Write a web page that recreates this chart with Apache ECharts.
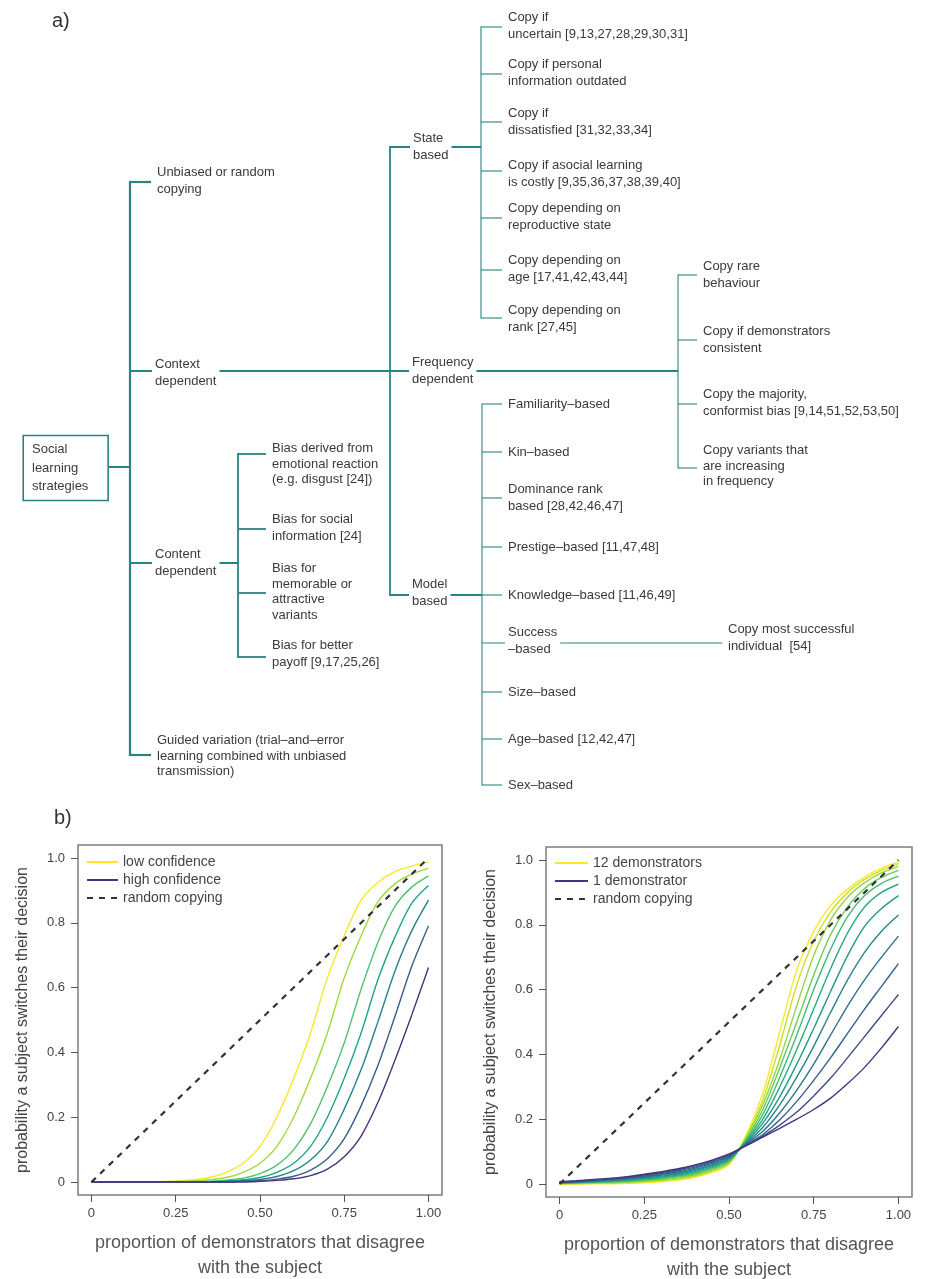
<!DOCTYPE html>
<html><head><meta charset="utf-8">
<script src="https://cdn.jsdelivr.net/npm/echarts@6/dist/echarts.min.js"></script>
<style>html,body{margin:0;padding:0;background:#fff}#c{width:939px;height:1279px}</style>
</head><body><div id="c"></div>
<script>
// ---------- panel a) : classification tree ----------
const treeLabels = [
  'Social\nlearning\nstrategies',
  'Unbiased or random\ncopying',
  'Context\ndependent',
  'Content\ndependent',
  'Guided variation (trial\u2013and\u2013error\nlearning combined with unbiased\ntransmission)',
  'State\nbased',
  'Frequency\ndependent',
  'Model\nbased',
  'Copy if\nuncertain [9,13,27,28,29,30,31]',
  'Copy if personal\ninformation outdated',
  'Copy if\ndissatisfied [31,32,33,34]',
  'Copy if asocial learning\nis costly [9,35,36,37,38,39,40]',
  'Copy depending on\nreproductive state',
  'Copy depending on\nage [17,41,42,43,44]',
  'Copy depending on\nrank [27,45]',
  'Copy rare\nbehaviour',
  'Copy if demonstrators\nconsistent',
  'Copy the majority,\nconformist bias [9,14,51,52,53,50]',
  'Copy variants that\nare increasing\nin frequency',
  'Familiarity\u2013based',
  'Kin\u2013based',
  'Dominance rank\nbased [28,42,46,47]',
  'Prestige\u2013based [11,47,48]',
  'Knowledge\u2013based [11,46,49]',
  'Success\n\u2013based',
  'Size\u2013based',
  'Age\u2013based [12,42,47]',
  'Sex\u2013based',
  'Bias derived from\nemotional reaction\n(e.g. disgust [24])',
  'Bias for social\ninformation [24]',
  'Bias for\nmemorable or\nattractive\nvariants',
  'Bias for better\npayoff [9,17,25,26]',
  'Copy most successful\nindividual  [54]'
];
const treeParents = [-1,0,0,0,0,2,2,2,5,5,5,5,5,5,5,6,6,6,6,7,7,7,7,7,7,7,7,7,3,3,3,3,24];
// vertical position of each node's branch line (diagram rows)
const treeRows = [467,182,371,563,755,147,371,595,27,74,122,171,218,270,318,275,340,404,468,404,452,498,547,595,643,692,739,785,454,529,593,657,643];
// vertical position of each node's label block
const treeLabelRows = [468,181,373,563,756,147,371,593,26,73,122,174,217,269,319,275,340,403,466,404,452,498,547,595,641,692,739,785,464,528,592,654,638];
// horizontal position where each label starts (diagram columns)
const treeLabelCols = [32,157,155,155,157,413,412,412,508,508,508,508,508,508,508,703,703,703,703,508,508,508,508,508,508,508,508,508,272,272,272,272,728];
// column of the bar joining a node's children (null for leaves)
const treeBranchCols = [130,null,390,238,null,481,678,482,null,null,null,null,null,null,null,null,null,null,null,null,null,null,null,null,722,null,null,null,null,null,null,null,null];

// ---------- panel b) : model curves ----------
const xGrid = [0,0.05,0.1,0.15,0.2,0.25,0.3,0.35,0.4,0.45,0.5,0.55,0.6,0.65,0.7,0.75,0.8,0.85,0.9,0.95,1];
const xTickValues = [0,0.25,0.5,0.75,1];
const xTickLabels = ['0','0.25','0.50','0.75','1.00'];
const yTickValues = [0,0.2,0.4,0.6,0.8,1];
const yTickLabels = ['0','0.2','0.4','0.6','0.8','1.0'];
const randomX = [0,1];
const randomY = [0,1];

// left: confidence levels (low -> high)
const conf1 = [0,0,0,0,0.001,0.003,0.007,0.014,0.030,0.058,0.110,0.200,0.320,0.460,0.630,0.760,0.870,0.925,0.958,0.975,0.987];
const conf2 = [0,0,0,0,0,0.001,0.003,0.007,0.014,0.030,0.058,0.110,0.200,0.320,0.460,0.630,0.760,0.865,0.920,0.950,0.968];
const conf3 = [0,0,0,0,0,0,0.001,0.002,0.006,0.012,0.026,0.052,0.100,0.180,0.295,0.430,0.595,0.740,0.850,0.910,0.945];
const conf4 = [0,0,0,0,0,0,0,0.001,0.003,0.007,0.014,0.030,0.058,0.110,0.200,0.320,0.460,0.625,0.755,0.860,0.915];
const conf5 = [0,0,0,0,0,0,0,0,0.001,0.004,0.008,0.017,0.035,0.068,0.125,0.225,0.347,0.495,0.650,0.775,0.870];
const conf6 = [0,0,0,0,0,0,0,0,0,0.002,0.004,0.009,0.018,0.037,0.072,0.134,0.235,0.360,0.510,0.665,0.790];
const conf7 = [0,0,0,0,0,0,0,0,0,0,0.002,0.005,0.010,0.020,0.040,0.078,0.142,0.246,0.375,0.515,0.662];
const confNames = ['low confidence','confidence 2','confidence 3','confidence 4','confidence 5','confidence 6','high confidence'];

// right: number of demonstrators (12 -> 1)
const demo12 = [0.000,0.000,0.001,0.001,0.002,0.004,0.007,0.012,0.021,0.036,0.060,0.150,0.280,0.470,0.660,0.780,0.860,0.910,0.947,0.975,0.993];
const demo11 = [0.001,0.001,0.002,0.003,0.004,0.006,0.010,0.015,0.024,0.039,0.063,0.145,0.260,0.430,0.615,0.750,0.840,0.900,0.940,0.968,0.988];
const demo10 = [0.001,0.002,0.003,0.004,0.006,0.009,0.013,0.018,0.028,0.043,0.066,0.141,0.245,0.385,0.550,0.705,0.815,0.885,0.930,0.960,0.980];
const demo9  = [0.002,0.003,0.005,0.006,0.008,0.011,0.015,0.022,0.031,0.046,0.069,0.137,0.230,0.360,0.500,0.645,0.770,0.855,0.912,0.946,0.968];
const demo8  = [0.003,0.004,0.006,0.007,0.010,0.013,0.018,0.025,0.035,0.050,0.072,0.134,0.215,0.330,0.460,0.600,0.725,0.825,0.890,0.928,0.950];
const demo7  = [0.003,0.005,0.007,0.009,0.012,0.016,0.021,0.028,0.038,0.053,0.075,0.131,0.200,0.300,0.415,0.540,0.665,0.775,0.855,0.900,0.925];
const demo6  = [0.004,0.005,0.008,0.010,0.013,0.018,0.024,0.031,0.042,0.057,0.078,0.128,0.188,0.270,0.370,0.480,0.595,0.705,0.795,0.850,0.890];
const demo5  = [0.004,0.006,0.009,0.012,0.015,0.021,0.027,0.034,0.045,0.060,0.081,0.125,0.175,0.245,0.330,0.425,0.530,0.630,0.715,0.780,0.830];
const demo4  = [0.005,0.007,0.010,0.013,0.017,0.023,0.030,0.037,0.049,0.064,0.084,0.123,0.163,0.220,0.290,0.370,0.460,0.550,0.630,0.700,0.765];
const demo3  = [0.006,0.008,0.011,0.015,0.019,0.025,0.032,0.041,0.052,0.067,0.087,0.121,0.153,0.198,0.255,0.320,0.390,0.465,0.540,0.610,0.680];
const demo2  = [0.006,0.009,0.013,0.016,0.021,0.028,0.035,0.044,0.056,0.071,0.090,0.120,0.148,0.182,0.222,0.272,0.327,0.390,0.455,0.520,0.585];
const demo1  = [0.007,0.010,0.014,0.018,0.023,0.030,0.038,0.047,0.059,0.074,0.093,0.118,0.145,0.172,0.200,0.230,0.265,0.310,0.360,0.420,0.486];
const demoNames = ['12 demonstrators','11 demonstrators','10 demonstrators','9 demonstrators','8 demonstrators','7 demonstrators','6 demonstrators','5 demonstrators','4 demonstrators','3 demonstrators','2 demonstrators','1 demonstrator'];

// ---------- styles ----------
const FONT = '"Liberation Sans", Arial, Helvetica, sans-serif';
const TEAL = '#2a8383';
const confColors = ['#FDE725','#A2D937','#4FC36A','#22A386','#26828D','#355F8D','#44347E'];
const demoColors = ['#FDE725','#CCE126','#98D73E','#69CB5B','#41BD72','#27AB81','#219989','#25878D','#2C738E','#34608D','#3E4B89','#44347E'];

const confCurves = [conf1,conf2,conf3,conf4,conf5,conf6,conf7];
const demoCurves = [demo12,demo11,demo10,demo9,demo8,demo7,demo6,demo5,demo4,demo3,demo2,demo1];

function depthOf(i){ let d = 0; while (treeParents[i] >= 0) { i = treeParents[i]; d++; } return d; }
function widthFor(d){ return [2.2, 1.8, 1.1, 0.8][d] || 0.8; }

function renderTreeLines(params, api) {
  const i = api.value(2);
  const p = treeParents[i];
  const out = [];
  const seg = (x1, y1, x2, y2, w) => {
    const a = api.coord([x1, y1]), b = api.coord([x2, y2]);
    out.push({type:'line', shape:{x1:a[0], y1:a[1], x2:b[0], y2:b[1]}, style:{stroke:TEAL, lineWidth:w, lineCap:'butt'}});
  };
  if (p >= 0) {
    const endX = treeBranchCols[i] != null ? treeBranchCols[i] : treeLabelCols[i] - 6;
    seg(treeBranchCols[p], treeRows[i], endX, treeRows[i], widthFor(depthOf(p)));
  } else {
    seg(treeLabelCols[i], treeRows[i], treeBranchCols[i], treeRows[i], widthFor(0));
  }
  if (treeBranchCols[i] != null) {
    const ys = [];
    treeParents.forEach((q, k) => { if (q === i) ys.push(treeRows[k]); });
    const w = widthFor(depthOf(i));
    seg(treeBranchCols[i], Math.min(...ys) - w / 2, treeBranchCols[i], Math.max(...ys) + w / 2, w);
  }
  return {type:'group', children: out};
}

function renderTreeLabel(params, api) {
  const i = api.value(2);
  const pt = api.coord([treeLabelCols[i], treeLabelRows[i]]);
  const nLines = treeLabels[i].split('\n').length;
  const isRoot = treeParents[i] < 0;
  const internal = treeBranchCols[i] != null;
  const style = {
    text: treeLabels[i], fill: '#3a3a3a', fontSize: 13, fontFamily: FONT,
    align: 'left', verticalAlign: 'middle',
    lineHeight: isRoot ? 18.5 : (nLines >= 3 ? 15.5 : 17.5)
  };
  let x = pt[0];
  if (isRoot) {
    Object.assign(style, {backgroundColor:'#fff', borderColor:TEAL, borderWidth:1.6, padding:[4,19,4,8]});
    x -= 8;
  } else if (internal) {
    Object.assign(style, {backgroundColor:'#fff', padding:[1,3]});
    x -= 3;
  }
  return {type:'text', x: x, y: pt[1], style: style};
}

const treeData = treeLabels.map((_, i) => [treeLabelCols[i], treeRows[i], i]);

function tickText(v, vals, labels) {
  const k = vals.findIndex(t => Math.abs(t - v) < 1e-9);
  return k >= 0 ? labels[k] : '';
}
function makeX(gi) {
  return {
    type:'value', gridIndex:gi, min:-0.04, max:1.04,
    axisLine:{show:false, onZero:false}, splitLine:{show:false},
    axisTick:{show:true, customValues:xTickValues, length:7, lineStyle:{color:'#555', width:1}},
    axisLabel:{customValues:xTickValues, formatter:(v) => tickText(v, xTickValues, xTickLabels),
      margin:12, fontSize:13, color:'#444', fontFamily:FONT},
    name:'proportion of demonstrators that disagree\nwith the subject',
    nameLocation:'middle', nameGap:36,
    nameTextStyle:{fontSize:18, lineHeight:25, color:'#555', fontFamily:FONT}
  };
}
function makeY(gi) {
  return {
    type:'value', gridIndex:gi, min:-0.04, max:1.04,
    axisLine:{show:false, onZero:false}, splitLine:{show:false},
    axisTick:{show:true, customValues:yTickValues, length:7, lineStyle:{color:'#555', width:1}},
    axisLabel:{customValues:yTickValues, formatter:(v) => tickText(v, yTickValues, yTickLabels),
      margin:13, fontSize:13, color:'#444', fontFamily:FONT},
    name:'probability a subject switches their decision',
    nameLocation:'middle', nameGap:47,
    nameTextStyle:{fontSize:16, color:'#444', fontFamily:FONT}
  };
}
function curveSeries(gi, ys, name, color) {
  return {
    type:'line', name:name, xAxisIndex:gi, yAxisIndex:gi,
    data: xGrid.map((x, j) => [x, ys[j]]),
    symbol:'none', showSymbol:false, smooth:0.3, silent:true,
    lineStyle:{color:color, width:1.4}, itemStyle:{color:color}, z:3
  };
}
function randomSeries(gi) {
  return {
    type:'line', name:'random copying', xAxisIndex:gi, yAxisIndex:gi,
    data: randomX.map((x, j) => [x, randomY[j]]),
    symbol:'none', showSymbol:false, silent:true,
    lineStyle:{color:'#333', width:2.2, type:[6,6]}, itemStyle:{color:'#333'}, z:5
  };
}

const series = [
  {type:'custom', coordinateSystem:'cartesian2d', xAxisIndex:0, yAxisIndex:0, renderItem:renderTreeLines,
   data:treeData, encode:{x:0, y:1}, silent:true, z:1, clip:false},
  {type:'custom', coordinateSystem:'cartesian2d', xAxisIndex:0, yAxisIndex:0, renderItem:renderTreeLabel,
   data:treeData, encode:{x:0, y:1}, silent:true, z:2, clip:false}
];
confCurves.forEach((c, k) => series.push(curveSeries(1, c, confNames[k], confColors[k])));
series.push(randomSeries(1));
demoCurves.forEach((c, k) => series.push(curveSeries(2, c, demoNames[k], demoColors[k])));
series.push(randomSeries(2));

const legendCommon = {
  orient:'vertical', itemWidth:31, itemHeight:14, itemGap:4, padding:0, selectedMode:false,
  itemStyle:{opacity:0, borderWidth:0},
  lineStyle:{width:2},
  textStyle:{fontSize:14, color:'#444', fontFamily:FONT}
};

const chart = echarts.init(document.getElementById('c'), null, {renderer:'canvas'});
chart.setOption({
  animation:false,
  backgroundColor:'#fff',
  title:[
    {text:'a)', left:52, top:11, padding:0, textStyle:{fontSize:20, fontWeight:'normal', color:'#333', fontFamily:FONT}},
    {text:'b)', left:54, top:808, padding:0, textStyle:{fontSize:20, fontWeight:'normal', color:'#333', fontFamily:FONT}}
  ],
  legend:[
    Object.assign({}, legendCommon, {data:['low confidence','high confidence','random copying'], left:86, top:855}),
    Object.assign({}, legendCommon, {data:['12 demonstrators','1 demonstrator','random copying'], left:554, top:856, itemWidth:33})
  ],
  grid:[
    {left:0, top:0, width:939, height:800, show:false, outerBoundsMode:'none'},
    {left:78, top:845, width:364, height:350, show:true, borderColor:'#7d7d7d', borderWidth:1.5, backgroundColor:'rgba(0,0,0,0)', outerBoundsMode:'none'},
    {left:546, top:847, width:366, height:350, show:true, borderColor:'#7d7d7d', borderWidth:1.5, backgroundColor:'rgba(0,0,0,0)', outerBoundsMode:'none'}
  ],
  xAxis:[
    {type:'value', gridIndex:0, min:0, max:939, show:false},
    makeX(1), makeX(2)
  ],
  yAxis:[
    {type:'value', gridIndex:0, min:0, max:800, inverse:true, show:false},
    makeY(1), makeY(2)
  ],
  series:series
});
</script>
</body></html>
